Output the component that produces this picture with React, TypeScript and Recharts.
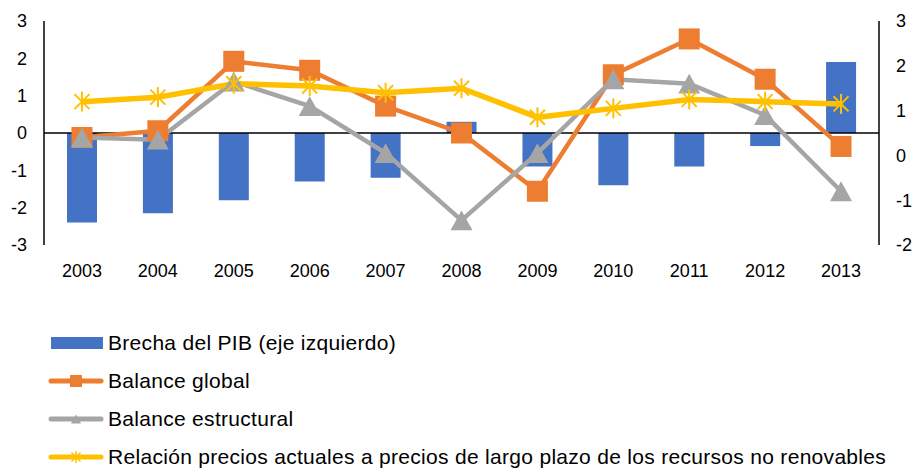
import React from "react"
import {
  ComposedChart,
  Bar,
  Line,
  XAxis,
  YAxis,
  ReferenceLine,
} from "recharts"

const years = ["2003", "2004", "2005", "2006", "2007", "2008", "2009", "2010", "2011", "2012", "2013"]
const brechaPib = [-2.4, -2.15, -1.8, -1.3, -1.2, 0.3, -0.9, -1.4, -0.9, -0.35, 1.9]
const balanceGlobal = [0.4, 0.55, 2.1, 1.9, 1.1, 0.5, -0.8, 1.8, 2.6, 1.7, 0.2]
const balanceEstructural = [0.4, 0.35, 1.65, 1.1, 0.05, -1.45, 0.05, 1.7, 1.6, 0.9, -0.8]
const relacionPrecios = [1.2, 1.3, 1.6, 1.55, 1.4, 1.5, 0.85, 1.05, 1.25, 1.2, 1.15]
const leftTicks = [-3, -2, -1, 0, 1, 2, 3]
const rightTicks = [-2, -1, 0, 1, 2, 3]

const labels = {
  brecha: "Brecha del PIB (eje izquierdo)",
  global: "Balance global",
  estructural: "Balance estructural",
  relacion: "Relación precios actuales a precios de largo plazo de los recursos no renovables",
}

const BLUE = "#4472C4"
const ORANGE = "#ED7D31"
const GRAY = "#A5A5A5"
const YELLOW = "#FFC000"
const FONT = "'Liberation Sans', Arial, sans-serif"

const data = years.map((year, i) => ({
  year,
  brecha: brechaPib[i],
  global: balanceGlobal[i],
  estructural: balanceEstructural[i],
  relacion: relacionPrecios[i],
}))

function Square({ cx, cy, size = 21 }: { cx?: number; cy?: number; size?: number }) {
  if (cx == null || cy == null) return null
  return <rect x={cx - size / 2} y={cy - size / 2} width={size} height={size} fill={ORANGE} />
}

function Triangle({ cx, cy, size = 22 }: { cx?: number; cy?: number; size?: number }) {
  if (cx == null || cy == null) return null
  const h = size * 0.9
  const pts = `${cx},${cy - h / 2} ${cx + size / 2},${cy + h / 2} ${cx - size / 2},${cy + h / 2}`
  return <polygon points={pts} fill={GRAY} />
}

function Star({ cx, cy, size = 20, width = 2 }: { cx?: number; cy?: number; size?: number; width?: number }) {
  if (cx == null || cy == null) return null
  const r = size / 2
  const d = r * 0.75
  return (
    <g stroke={YELLOW} strokeWidth={width}>
      <line x1={cx} y1={cy - r} x2={cx} y2={cy + r} />
      <line x1={cx - d} y1={cy - d} x2={cx + d} y2={cy + d} />
      <line x1={cx - d} y1={cy + d} x2={cx + d} y2={cy - d} />
    </g>
  )
}

function LegendRow({ kind, text }: { kind: string; text: string }) {
  let swatch: React.ReactNode
  if (kind === "bar") {
    swatch = <rect x={3} y={4} width={52} height={12} fill={BLUE} />
  } else {
    const color = kind === "global" ? ORANGE : kind === "estructural" ? GRAY : YELLOW
    swatch = (
      <g>
        <line x1={3} y1={10} x2={53} y2={10} stroke={color} strokeWidth={5} strokeLinecap="round" />
        {kind === "global" && <Square cx={28} cy={10} size={12} />}
        {kind === "estructural" && <Triangle cx={28} cy={10} size={10} />}
        {kind === "relacion" && <Star cx={28} cy={10} size={12} width={1.5} />}
      </g>
    )
  }
  return (
    <div style={{ display: "flex", alignItems: "center", height: 38 }}>
      <svg width={58} height={20} style={{ marginRight: 2 }}>
        {swatch}
      </svg>
      <span
        style={{
          fontFamily: FONT,
          fontSize: 21,
          letterSpacing: 0.3,
          color: "#000",
          whiteSpace: "nowrap",
        }}
      >
        {text}
      </span>
    </div>
  )
}

export default function App() {
  const tick = { fill: "#000", fontSize: 18, fontFamily: FONT }
  return (
    <div style={{ position: "absolute", left: 0, top: 0, width: 912, height: 470, background: "#fff" }}>
      <ComposedChart
        width={912}
        height={470}
        data={data}
        margin={{ top: 21, right: 0, left: 0, bottom: 185 }}
        barSize={30}
      >
        <XAxis
          dataKey="year"
          xAxisId={0}
          axisLine={false}
          tickLine={false}
          tickSize={0}
          tickMargin={19}
          height={40}
          tick={tick}
          interval={0}
        />
        <YAxis
          yAxisId="left"
          orientation="left"
          width={44}
          domain={[-3, 3]}
          ticks={leftTicks}
          tickLine={false}
          tickSize={0}
          tickMargin={17}
          axisLine={{ stroke: "#000", strokeWidth: 1.5 }}
          tick={tick}
        />
        <YAxis
          yAxisId="right"
          orientation="right"
          width={33}
          domain={[-2, 3]}
          ticks={rightTicks}
          tickLine={false}
          tickSize={0}
          tickMargin={17}
          axisLine={{ stroke: "#000", strokeWidth: 1.5 }}
          tick={{ ...tick, textAnchor: "start" }}
        />
        <Bar yAxisId="left" dataKey="brecha" fill={BLUE} isAnimationActive={false} />
        <ReferenceLine yAxisId="left" y={0} stroke="#000" strokeWidth={1.5} />
        <Line
          yAxisId="right"
          dataKey="global"
          stroke={ORANGE}
          strokeWidth={4.5}
          dot={(p: any) => <Square key={`g${p.index}`} cx={p.cx} cy={p.cy} />}
          activeDot={false}
          isAnimationActive={false}
        />
        <Line
          yAxisId="right"
          dataKey="estructural"
          stroke={GRAY}
          strokeWidth={4.5}
          dot={(p: any) => <Triangle key={`e${p.index}`} cx={p.cx} cy={p.cy} />}
          activeDot={false}
          isAnimationActive={false}
        />
        <Line
          yAxisId="right"
          dataKey="relacion"
          stroke={YELLOW}
          strokeWidth={5.5}
          dot={(p: any) => <Star key={`r${p.index}`} cx={p.cx} cy={p.cy} />}
          activeDot={false}
          isAnimationActive={false}
        />
      </ComposedChart>
      <div style={{ position: "absolute", left: 48, top: 324 }}>
        <LegendRow kind="bar" text={labels.brecha} />
        <LegendRow kind="global" text={labels.global} />
        <LegendRow kind="estructural" text={labels.estructural} />
        <LegendRow kind="relacion" text={labels.relacion} />
      </div>
    </div>
  )
}
